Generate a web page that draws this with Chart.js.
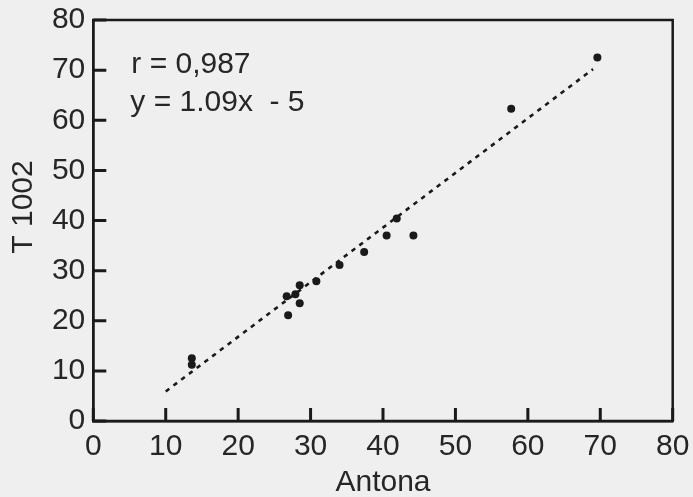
<!DOCTYPE html>
<html>
<head>
<meta charset="utf-8">
<script src="https://cdn.jsdelivr.net/npm/chart.js@4.4.0/dist/chart.umd.min.js"></script>
<style>
  html, body { margin: 0; padding: 0; background: #efefef; }
  canvas { display: block; }
</style>
</head>
<body>
<canvas id="scatterChart" width="693" height="497"></canvas>
<script>
// values
const antona = [13.6, 13.6, 26.9, 26.7, 27.9, 28.5, 28.5, 30.8, 34.0, 37.4, 40.5, 41.9, 44.2, 57.7, 69.6];
const t1002  = [12.5, 11.2, 21.1, 24.9, 25.3, 27.1, 23.5, 27.9, 31.1, 33.7, 37.0, 40.4, 37.0, 62.3, 72.5];
// regression line ends
const fitX = [10, 69];
const fitY = [5.9, 70.2];
const tickValues = [0, 10, 20, 30, 40, 50, 60, 70, 80];
const tickLabels = ['0', '10', '20', '30', '40', '50', '60', '70', '80'];
const statsLines = ['r = 0,987', 'y = 1.09x  - 5'];
const xTitle = 'Antona';
const yTitle = 'T 1002';

const ink = '#1a1a1a';
const textInk = '#262626';
const font = '"Liberation Sans", Arial, sans-serif';

const points = antona.map((x, i) => ({ x: x, y: t1002[i] }));
const fitLine = fitX.map((x, i) => ({ x: x, y: fitY[i] }));

// frame, inward tick marks, stats text and the y title
const extras = {
  id: 'extras',
  afterDraw(chart) {
    const ctx = chart.ctx;
    const a = chart.chartArea;
    const xs = chart.scales.x, ys = chart.scales.y;
    ctx.save();
    ctx.setLineDash([]);
    ctx.strokeStyle = ink;
    ctx.lineWidth = 2.5;
    ctx.strokeRect(a.left, a.top, a.right - a.left, a.bottom - a.top);

    ctx.lineWidth = 3;
    ctx.beginPath();
    tickValues.forEach(v => {
      const px = xs.getPixelForValue(v);
      const py = ys.getPixelForValue(v);
      ctx.moveTo(px, a.bottom);
      ctx.lineTo(px, a.bottom - 13);
      ctx.moveTo(a.left, py);
      ctx.lineTo(a.left + 13, py);
    });
    ctx.stroke();

    ctx.fillStyle = textInk;
    ctx.font = '30px ' + font;
    ctx.textAlign = 'left';
    ctx.textBaseline = 'alphabetic';
    ctx.fillText(statsLines[0], a.left + 38, a.top + 53);
    ctx.fillText(statsLines[1], a.left + 37, a.top + 90.5);

    ctx.translate(32, 207);
    ctx.rotate(-Math.PI / 2);
    ctx.textAlign = 'center';
    ctx.fillText(yTitle, 0, 0);
    ctx.restore();
  }
};

const axisCommon = {
  type: 'linear',
  min: 0,
  max: 80,
  border: { display: true, color: ink, width: 2.5 },
  grid: { display: false, drawTicks: false },
  ticks: {
    stepSize: 10,
    padding: 8,
    color: textInk,
    font: { family: font, size: 30 },
    callback: (v) => tickLabels[tickValues.indexOf(v)]
  }
};

new Chart(document.getElementById('scatterChart'), {
  type: 'scatter',
  data: {
    datasets: [
      {
        label: 'points',
        data: points,
        pointRadius: 4,
        pointBackgroundColor: ink,
        pointBorderWidth: 0
      },
      {
        type: 'line',
        label: 'fit',
        data: fitLine,
        borderColor: ink,
        borderWidth: 2.6,
        borderDash: [4.5, 5.2],
        pointRadius: 0,
        fill: false
      }
    ]
  },
  options: {
    responsive: false,
    animation: false,
    devicePixelRatio: 1,
    layout: { padding: { top: 20, right: 20.3, left: 0, bottom: 0 } },
    plugins: { legend: { display: false }, tooltip: { enabled: false } },
    scales: {
      x: Object.assign({}, axisCommon, {
        position: 'bottom',
        title: {
          display: true,
          text: xTitle,
          color: textInk,
          font: { family: font, size: 30, lineHeight: 0.93 },
          padding: { top: 0, bottom: 0 }
        },
        afterFit: (s) => { s.height = 76; s.paddingLeft = 0; s.paddingRight = 0; }
      }),
      y: Object.assign({}, axisCommon, {
        position: 'left',
        afterFit: (s) => { s.width = 93.3; s.paddingTop = 0; s.paddingBottom = 0; }
      })
    }
  },
  plugins: [extras]
});
</script>
</body>
</html>
